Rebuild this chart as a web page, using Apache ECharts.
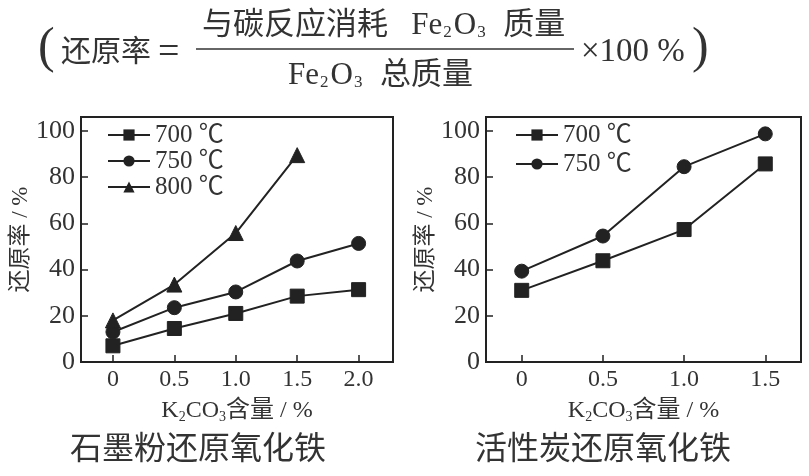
<!DOCTYPE html>
<html>
<head>
<meta charset="utf-8">
<script src="https://cdn.jsdelivr.net/npm/echarts@6/dist/echarts.min.js"></script>
<style>
html, body { margin: 0; padding: 0; background: #fff; }
#main { width: 809px; height: 476px; }
</style>
</head>
<body>
<div id="main"></div>
<script>
// K2CO3 content (%) on the x axis
var graphiteX = [0, 0.5, 1.0, 1.5, 2.0];
var carbonX = [0, 0.5, 1.0, 1.5];
// reduction rate (%) - graphite powder
var graphite700 = [7, 14.5, 21, 28.5, 31.3];
var graphite750 = [13, 23.5, 30.3, 43.7, 51.3];
var graphite800 = [18, 33.5, 55.8, 89.5];
// reduction rate (%) - activated carbon
var carbon700 = [31, 43.8, 57.3, 85.7];
var carbon750 = [39.3, 54.5, 84.5, 98.7];
var yTicks = [0, 20, 40, 60, 80, 100];
var seriesNames = ['700 ℃', '750 ℃', '800 ℃'];

var FONT = 'Liberation Serif, "Noto Sans CJK SC", serif';
var INK = '#222';
var TXT = '#333';

function pairs(xs, ys) {
    var out = [];
    for (var i = 0; i < ys.length; i++) {
        out.push([xs[i], ys[i]]);
    }
    return out;
}

function lineSeries(name, symbol, idx, xs, ys) {
    return {
        name: name,
        type: 'line',
        xAxisIndex: idx,
        yAxisIndex: idx,
        symbol: symbol,
        symbolSize: symbol == 'triangle' ? 15 : 14,
        showSymbol: true,
        lineStyle: { color: INK, width: 2 },
        itemStyle: { color: INK, borderColor: INK },
        data: pairs(xs, ys),
        animation: false
    };
}

var nameRich = {
    t: { fontFamily: FONT, fontSize: 24, color: TXT },
    s: { fontFamily: FONT, fontSize: 14, color: TXT, padding: [12, 0, 0, 0] }
};

function makeX(idx, min, max, ticks) {
    return {
        type: 'value',
        gridIndex: idx,
        min: min,
        max: max,
        name: '{t|K}{s|2}{t|CO}{s|3}{t|含量 / %}',
        nameLocation: 'middle',
        nameGap: 36,
        nameTextStyle: { rich: nameRich },
        axisLine: { show: true, onZero: false, lineStyle: { color: INK, width: 2 } },
        axisTick: { show: true, inside: true, length: 7, customValues: ticks, lineStyle: { color: INK, width: 1.5 } },
        axisLabel: {
            customValues: ticks,
            margin: 6,
            fontFamily: FONT,
            fontSize: 24,
            color: TXT,
            formatter: function(v) { return v == 0 ? '0' : v.toFixed(1); }
        },
        splitLine: { show: false }
    };
}

function makeY(idx, gap) {
    return {
        type: 'value',
        gridIndex: idx,
        min: 0,
        max: 106,
        name: '还原率 / %',
        nameLocation: 'middle',
        nameRotate: 90,
        nameGap: gap,
        nameTextStyle: { fontFamily: FONT, fontSize: 23, color: TXT },
        axisLine: { show: true, onZero: false, lineStyle: { color: INK, width: 2 } },
        axisTick: { show: true, inside: true, length: 7, customValues: yTicks, lineStyle: { color: INK, width: 1.5 } },
        axisLabel: { customValues: yTicks, margin: 6, fontFamily: FONT, fontSize: 26, color: TXT },
        splitLine: { show: false }
    };
}

var subRich = {
    s: { fontFamily: FONT, fontSize: 17, fill: TXT, padding: [14, 2, 0, 1] },
    f: { fontFamily: FONT, fontSize: 31, fill: TXT }
};

var chart = echarts.init(document.getElementById('main'));
var option = {
    backgroundColor: '#fff',
    animation: false,
    grid: [
        { left: 81, top: 117, right: 809 - 393, bottom: 476 - 362, show: true, borderColor: INK, borderWidth: 2 },
        { left: 486, top: 117, right: 809 - 801, bottom: 476 - 362, show: true, borderColor: INK, borderWidth: 2 }
    ],
    legend: [
        {
            orient: 'vertical', left: 102, top: 117, itemWidth: 42, itemHeight: 14, itemGap: 0,
            data: seriesNames,
            textStyle: { fontFamily: FONT, fontSize: 25, color: TXT, lineHeight: 26 }
        },
        {
            orient: 'vertical', left: 510, top: 117, itemWidth: 42, itemHeight: 14, itemGap: 3,
            data: seriesNames.slice(0, 2),
            textStyle: { fontFamily: FONT, fontSize: 25, color: TXT, lineHeight: 26 }
        }
    ],
    xAxis: [
        makeX(0, -0.26, 2.28, graphiteX),
        makeX(1, -0.22, 1.72, carbonX)
    ],
    yAxis: [
        makeY(0, 41),
        makeY(1, 47)
    ],
    series: [
        lineSeries(seriesNames[0], 'rect', 0, graphiteX, graphite700),
        lineSeries(seriesNames[1], 'circle', 0, graphiteX, graphite750),
        lineSeries(seriesNames[2], 'triangle', 0, graphiteX, graphite800),
        lineSeries(seriesNames[0], 'rect', 1, carbonX, carbon700),
        lineSeries(seriesNames[1], 'circle', 1, carbonX, carbon750)
    ],
    graphic: [
        { type: 'text', left: 38, top: 24, style: { text: '(', fontSize: 50, fontFamily: FONT, fontWeight: 300, fill: TXT } },
        { type: 'text', left: 61, top: 38, style: { text: '还原率', fontSize: 30, fontFamily: FONT, fill: TXT } },
        { type: 'text', left: 158, top: 34, style: { text: '=', fontSize: 38, fontFamily: FONT, fill: TXT } },
        { type: 'text', left: 202, top: 10, style: { text: '与碳反应消耗   {f|Fe}{s|2}{f|O}{s|3}  质量', fontSize: 31, fontFamily: FONT, fill: TXT, rich: subRich } },
        { type: 'line', shape: { x1: 196, y1: 49, x2: 574, y2: 49 }, style: { stroke: TXT, lineWidth: 1.5 } },
        { type: 'text', left: 288, top: 60, style: { text: '{f|Fe}{s|2}{f|O}{s|3}  总质量', fontSize: 31, fontFamily: FONT, fill: TXT, rich: subRich } },
        { type: 'text', left: 581, top: 36, style: { text: '×100 %', fontSize: 33, fontFamily: FONT, fill: TXT } },
        { type: 'text', left: 692, top: 24, style: { text: ')', fontSize: 50, fontFamily: FONT, fontWeight: 300, fill: TXT } },
        { type: 'text', left: 70, top: 435, style: { text: '石墨粉还原氧化铁', fontSize: 32, fontFamily: FONT, fill: TXT } },
        { type: 'text', left: 475, top: 435, style: { text: '活性炭还原氧化铁', fontSize: 32, fontFamily: FONT, fill: TXT } }
    ]
};
chart.setOption(option);
</script>
</body>
</html>
